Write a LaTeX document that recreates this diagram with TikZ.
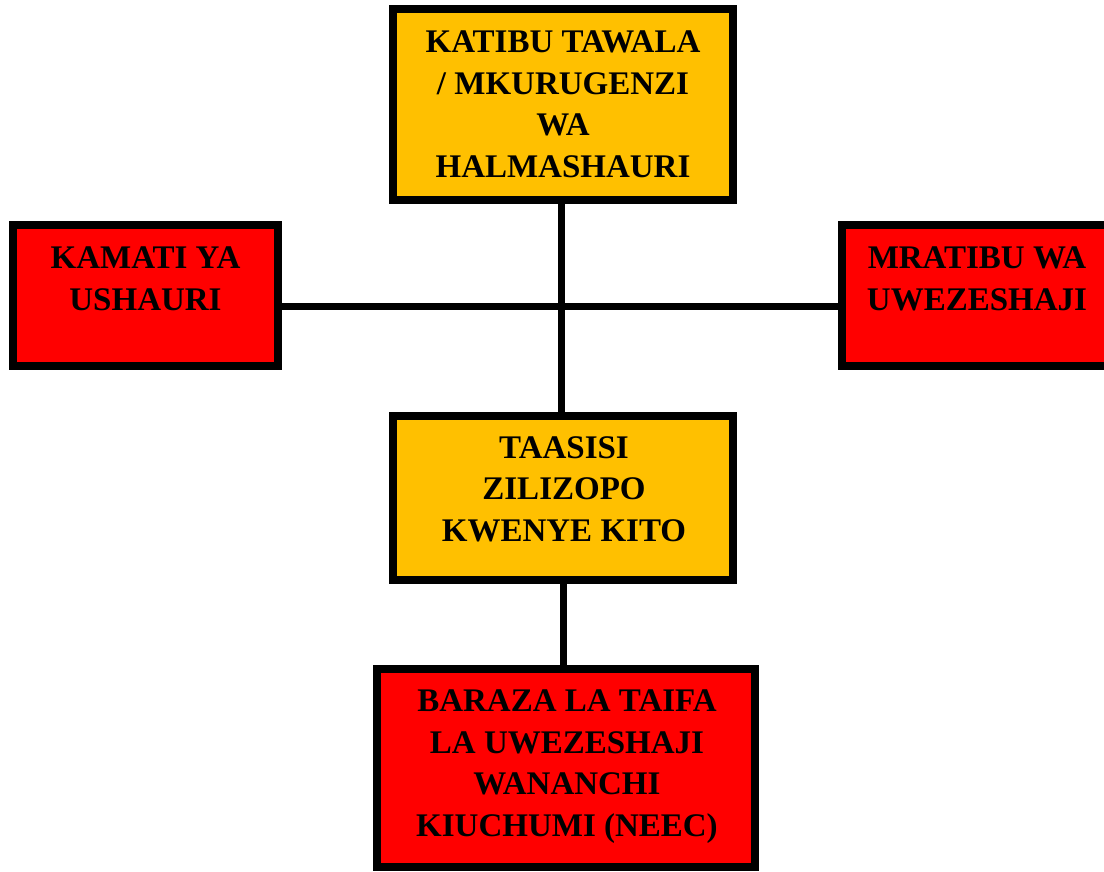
\documentclass[tikz,border=0pt]{standalone}
\usepackage{fontspec}
\setmainfont{Liberation Serif}
\usetikzlibrary{backgrounds}
\definecolor{boxorange}{HTML}{FFC000}
\definecolor{boxred}{HTML}{FF0000}
\begin{document}
\begin{tikzpicture}[x=1pt,y=1pt,
  orgbox/.style={draw=black, line width=7.5pt, rectangle, inner sep=0pt},
  txt/.style={anchor=north, align=center, inner sep=0pt, font=\bfseries\fontsize{33}{41.5}\selectfont},
  conn/.style={draw=black, line width=7pt}]
\useasboundingbox (0,0) rectangle (1104,-871);
% boxes
\node[orgbox, fill=boxorange, minimum width=340, minimum height=191] (top) at (563,-104.5) {};
\node[orgbox, fill=boxred, minimum width=265, minimum height=141] (left) at (145.5,-295.5) {};
\node[orgbox, fill=boxred, minimum width=270, minimum height=141] (right) at (977,-295.5) {};
\node[orgbox, fill=boxorange, minimum width=340, minimum height=164] (mid) at (563,-498) {};
\node[orgbox, fill=boxred, minimum width=378, minimum height=198] (bot) at (566,-768) {};
\coordinate (vx) at (561,0);
\coordinate (hy) at (0,-306);
% connectors behind boxes
\begin{pgfonlayer}{background}
\draw[conn] (top.south -| vx) -- (mid.north -| vx);
\draw[conn] (left.east |- hy) -- (right.west |- hy);
\draw[conn] (mid.south) -- (mid.south |- bot.north);
\end{pgfonlayer}
% texts
\node[txt] (ttop) at (563,-31) {KATIBU TAWALA\\/ MKURUGENZI\\WA\\HALMASHAURI};
\node[txt] (tleft) at (145.5,-247) {KAMATI YA\\USHAURI};
\node[txt] (tright) at (977,-247) {MRATIBU WA\\UWEZESHAJI};
\node[txt] (tmid) at (564,-436) {TAASISI\\ZILIZOPO\\KWENYE KITO};
\node[txt] (tbot) at (567,-690) {BARAZA LA TAIFA\\LA UWEZESHAJI\\WANANCHI\\KIUCHUMI (NEEC)};
\end{tikzpicture}
\end{document}
